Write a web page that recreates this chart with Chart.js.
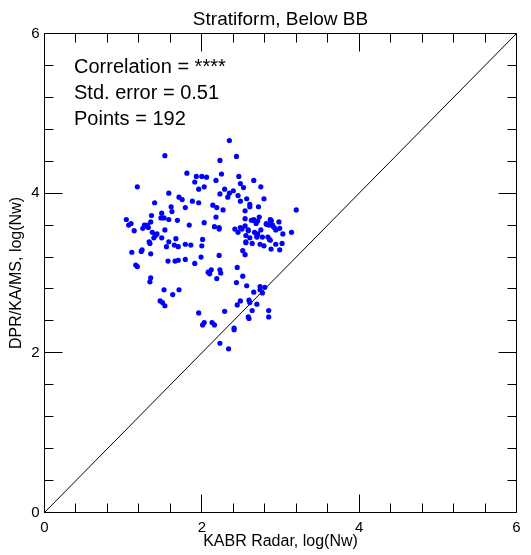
<!DOCTYPE html>
<html>
<head>
<meta charset="utf-8">
<script src="https://cdn.jsdelivr.net/npm/chart.js@4.4.0/dist/chart.umd.min.js"></script>
<style>
html,body{margin:0;padding:0;background:#ffffff;}
canvas{display:block;}
</style>
</head>
<body>
<canvas id="c" width="531" height="555"></canvas>
<script>
const FONT = '"Liberation Sans", Arial, Helvetica, sans-serif';
const chartTitle = 'Stratiform, Below BB';
const xAxisTitle = 'KABR Radar, log(Nw)';
const yAxisTitle = 'DPR/KA/MS, log(Nw)';
const statLines = ['Correlation = ****', 'Std. error = 0.51', 'Points = 192'];
const axisMin = 0;
const axisMax = 6;
const majorTicks = [0, 2, 4, 6];
const minorStep = 0.4;
const diagX = [0, 6];
const diagY = [0, 6];

const xVals = [
  1.53,2.35,2.44,2.23,1.81,1.93,2.00,2.06,2.25,2.47,
  1.91,2.18,2.66,2.03,1.96,1.18,2.49,2.75,2.53,2.29,
  1.58,2.23,2.35,2.40,2.46,1.71,1.75,2.33,2.57,2.79,
  1.40,1.88,1.96,2.49,1.61,1.79,2.14,2.19,2.27,2.61,
  2.61,2.72,2.55,3.20,1.62,1.49,1.36,1.48,1.52,1.58,
  1.69,1.04,2.18,2.03,1.35,1.10,1.07,2.55,2.63,2.66,
  2.73,2.71,2.69,2.87,2.88,2.98,2.82,2.85,2.90,2.92,
  1.84,2.16,1.27,1.31,1.25,1.32,2.22,2.22,1.14,1.53,
  1.37,1.43,1.41,1.39,1.49,1.67,2.01,2.42,2.49,2.51,
  2.55,2.59,2.46,2.67,2.71,2.75,2.94,2.99,3.14,3.03,
  2.56,2.61,2.70,2.77,2.84,2.86,2.56,2.64,2.74,2.79,
  2.87,2.94,3.02,2.88,2.99,2.52,2.55,1.33,1.34,1.58,
  1.65,1.70,1.55,1.79,1.86,2.00,1.11,1.23,1.24,1.35,
  1.99,2.22,1.57,1.66,1.70,1.79,1.91,1.16,1.18,2.45,
  2.08,2.10,2.12,2.23,2.24,2.19,2.52,1.35,1.34,2.44,
  2.57,2.74,2.80,2.74,2.77,2.66,1.52,1.71,1.63,1.47,
  1.50,1.53,2.49,2.60,2.61,2.70,2.45,2.64,2.85,2.29,
  2.85,2.59,2.60,2.41,2.41,1.96,2.03,2.01,2.13,2.16,
  2.23,2.34,2.66,2.90,1.30,2.59,2.70,2.56,1.41,2.82,
  2.88,2.50
];
const yVals = [
  4.47,4.66,4.46,4.41,4.25,4.21,4.21,4.20,4.24,4.21,
  4.14,4.16,4.16,4.08,4.05,4.08,4.12,4.08,4.07,4.05,
  4.00,3.99,4.00,4.03,3.97,3.95,3.92,3.95,3.93,3.93,
  3.88,3.90,3.88,3.90,3.83,3.82,3.85,3.82,3.79,3.86,
  3.83,3.83,3.78,3.79,3.77,3.75,3.72,3.69,3.69,3.67,
  3.66,3.67,3.70,3.63,3.64,3.62,3.60,3.68,3.66,3.67,
  3.70,3.65,3.62,3.67,3.65,3.64,3.61,3.60,3.60,3.57,
  3.60,3.58,3.60,3.60,3.56,3.57,3.57,3.55,3.53,3.54,
  3.51,3.49,3.47,3.44,3.44,3.43,3.42,3.55,3.57,3.55,
  3.59,3.54,3.51,3.51,3.49,3.54,3.54,3.56,3.51,3.49,
  3.47,3.44,3.45,3.45,3.45,3.42,3.39,3.37,3.36,3.34,
  3.41,3.36,3.37,3.30,3.29,3.28,3.23,3.39,3.37,3.39,
  3.35,3.33,3.33,3.36,3.35,3.34,3.26,3.27,3.29,3.24,
  3.20,3.22,3.15,3.15,3.16,3.17,3.12,3.10,3.08,3.07,
  3.01,2.99,3.04,3.04,3.00,2.93,2.96,2.94,2.89,2.88,
  2.84,2.83,2.82,2.79,2.75,2.76,2.79,2.79,2.73,2.65,
  2.63,2.59,2.65,2.66,2.63,2.61,2.60,2.53,2.53,2.52,
  2.45,2.45,2.43,2.31,2.29,2.50,2.38,2.35,2.38,2.35,
  2.12,2.05,3.66,3.59,3.59,3.53,3.46,3.38,3.48,3.62,
  3.66,3.56
];

function crisp(p) { return Math.round(p - 0.5) + 0.5; }

const framePlugin = {
  id: 'frameTicks',
  afterDatasetsDraw(chart) {
    const ctx = chart.ctx;
    const a = chart.chartArea;
    const xs = chart.scales.x, ys = chart.scales.y;
    const L = crisp(a.left), R = crisp(a.right), T = crisp(a.top), B = crisp(a.bottom);
    ctx.save();
    ctx.strokeStyle = '#000';
    ctx.lineWidth = 1;
    ctx.beginPath();
    ctx.rect(L, T, R - L, B - T);
    ctx.stroke();
    const n = Math.round((axisMax - axisMin) / minorStep);
    ctx.beginPath();
    for (let i = 0; i <= n; i++) {
      const v = axisMin + i * minorStep;
      const isMajor = majorTicks.some(m => Math.abs(m - v) < 1e-6);
      const len = isMajor ? 18 : 9;
      const px = crisp(xs.getPixelForValue(v));
      ctx.moveTo(px, B); ctx.lineTo(px, B - len);
      ctx.moveTo(px, T); ctx.lineTo(px, T + len);
      const py = crisp(ys.getPixelForValue(v));
      ctx.moveTo(L, py); ctx.lineTo(L + len, py);
      ctx.moveTo(R, py); ctx.lineTo(R - len, py);
    }
    ctx.stroke();
    ctx.restore();
  },
  afterDraw(chart) {
    const ctx = chart.ctx;
    const a = chart.chartArea;
    ctx.save();
    ctx.fillStyle = '#000';
    ctx.textBaseline = 'alphabetic';
    ctx.textAlign = 'center';
    ctx.font = '19px ' + FONT;
    ctx.fillText(chartTitle, (a.left + a.right) / 2, 25);
    ctx.textAlign = 'left';
    ctx.font = '20px ' + FONT;
    const base = [73, 99, 125];
    statLines.forEach((t, i) => ctx.fillText(t, 74, base[i]));
    ctx.restore();
  }
};

const pts = xVals.map((x, i) => ({ x: x, y: yVals[i] }));
const diag = diagX.map((x, i) => ({ x: x, y: diagY[i] }));

new Chart(document.getElementById('c'), {
  type: 'scatter',
  data: {
    datasets: [
      {
        data: pts,
        backgroundColor: '#0000ff',
        borderWidth: 0,
        pointRadius: 2.6,
        pointHoverRadius: 2.6
      },
      {
        data: diag,
        showLine: true,
        borderColor: '#000000',
        borderWidth: 1,
        pointRadius: 0,
        fill: false
      }
    ]
  },
  options: {
    responsive: false,
    animation: false,
    events: [],
    layout: { padding: { top: 33.5, right: 14.5, left: 0, bottom: 0 } },
    plugins: { legend: { display: false }, tooltip: { enabled: false }, title: { display: false } },
    scales: {
      x: {
        type: 'linear', position: 'bottom', min: axisMin, max: axisMax,
        afterFit(s) { s.height = 42.5; },
        afterBuildTicks(s) { s.ticks = majorTicks.map(v => ({ value: v })); },
        ticks: { font: { family: FONT, size: 15 }, color: '#000', padding: 6, maxRotation: 0, autoSkip: false, callback: v => String(v) },
        grid: { display: false, drawTicks: false },
        border: { display: false },
        title: { display: true, text: xAxisTitle, color: '#000', font: { family: FONT, size: 16 }, padding: { top: 0, bottom: 4 } }
      },
      y: {
        type: 'linear', position: 'left', min: axisMin, max: axisMax,
        afterFit(s) { s.width = 44.5; },
        afterBuildTicks(s) { s.ticks = majorTicks.map(v => ({ value: v })); },
        ticks: { font: { family: FONT, size: 15 }, color: '#000', padding: 5, autoSkip: false, callback: v => String(v) },
        grid: { display: false, drawTicks: false },
        border: { display: false },
        title: { display: true, text: yAxisTitle, color: '#000', font: { family: FONT, size: 16 }, padding: { top: 7, bottom: 0 } }
      }
    }
  },
  plugins: [framePlugin]
});
</script>
</body>
</html>
